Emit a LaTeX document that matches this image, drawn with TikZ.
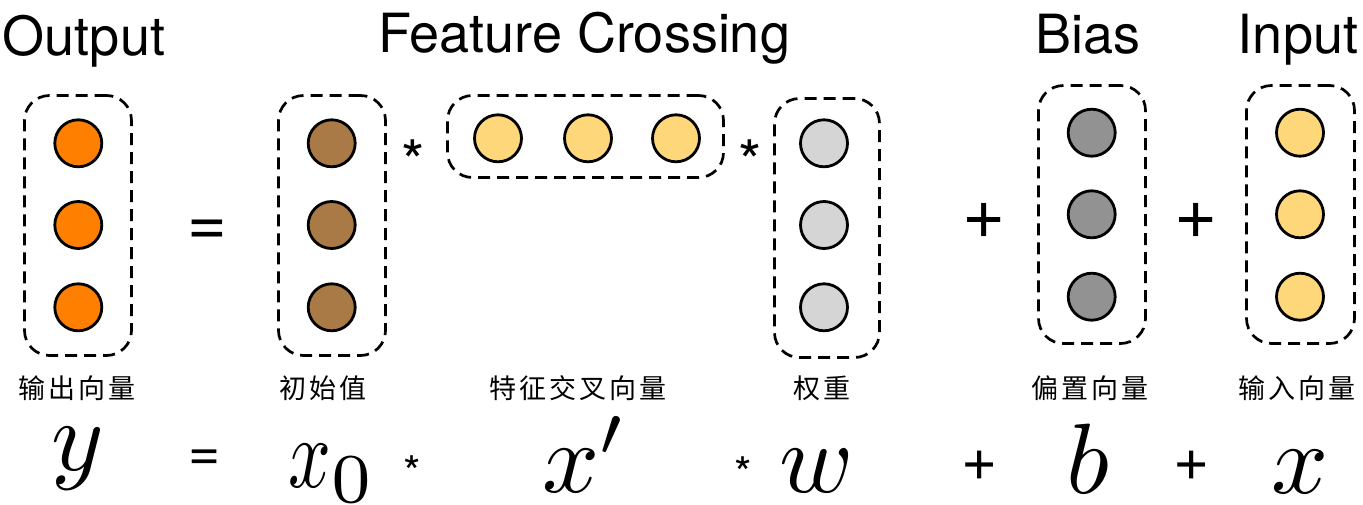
\documentclass[tikz,border=0pt]{standalone}
\usepackage{fontspec}
\usepackage{tikz}
\newfontfamily\heros{TeX Gyre Heros}
\newfontfamily\cjkfont[LetterSpace=11]{Noto Sans CJK SC}
\definecolor{cOrange}{RGB}{255,128,0}
\definecolor{cBrown}{RGB}{169,122,70}
\definecolor{cYellow}{RGB}{255,215,123}
\definecolor{cLight}{RGB}{213,213,213}
\definecolor{cDark}{RGB}{146,146,146}
\newcommand{\hugemath}[1]{\scalebox{10}{\fontsize{10}{10}\selectfont$#1$}}
\begin{document}
\begin{tikzpicture}[x=1pt,y=-1pt,
  vbox/.style={draw, line width=2.7pt, dash pattern=on 12pt off 7pt, rounded corners=25pt, inner sep=0pt},
  neuron/.style={circle, draw, line width=2.8pt, minimum size=47pt, inner sep=0pt},
  title/.style={font=\heros\fontsize{54}{54}\selectfont, anchor=base, inner sep=0pt},
  bigop/.style={font=\heros\fontsize{#1}{#1}\selectfont, anchor=base, inner sep=0pt},
  lbl/.style={font=\cjkfont\fontsize{27}{27}\selectfont, inner sep=0pt},
  msym/.style={anchor=base, inner sep=0pt}]
\useasboundingbox (0,0) rectangle (1363,504);

% titles
\node[title] (tOut) at (84,55) {Output};
\node[title] (tFC) at (584,52) {Feature Crossing};
\node[title] (tBias) at (1088,53) {Bias};
\node[title] (tIn) at (1298,53) {Input};

% boxes
\node[vbox, minimum width=107pt, minimum height=260pt] (bOut) at (78,225.5) {};
\node[vbox, minimum width=107pt, minimum height=260pt] (bInit) at (332,225.5) {};
\node[vbox, minimum width=276pt, minimum height=82pt] (bCross) at (585.5,136.5) {};
\node[vbox, minimum width=105pt, minimum height=259pt] (bW) at (827,228) {};
\node[vbox, minimum width=107pt, minimum height=258pt] (bBias) at (1092,214.5) {};
\node[vbox, minimum width=108pt, minimum height=258pt] (bIn) at (1300.5,214.5) {};

% neurons
\foreach \i/\yy in {1/143.3,2/225,3/307.3}{
  \node[neuron, fill=cOrange] (o\i) at (78.3,\yy) {};
  \node[neuron, fill=cBrown] (s\i) at (331.7,\yy) {};
  \node[neuron, fill=cLight] (w\i) at (824,\yy) {};
}
\foreach \i/\xx in {1/498,2/588,3/676}{
  \node[neuron, fill=cYellow] (c\i) at (\xx,138.3) {};
}
\foreach \i/\yy in {1/132.7,2/214.3,3/296.7}{
  \node[neuron, fill=cDark] (b\i) at (1091.7,\yy) {};
  \node[neuron, fill=cYellow] (x\i) at (1300,\yy) {};
}

% operators in the vector row
\node[bigop=68] (eq1) at (207,245.5) {=};
\node[bigop=60] (st1) at (413,183) {*};
\node[bigop=60] (st2) at (750,183) {*};
\node[bigop=74] (pl1) at (984,238.7) {+};
\node[bigop=74] (pl2) at (1196,238.7) {+};

% chinese labels
\node[lbl] (lOut) at (77,388) {输出向量};
\node[lbl] (lInit) at (323,388) {初始值};
\node[lbl] (lCross) at (578,388) {特征交叉向量};
\node[lbl] (lW) at (822,388) {权重};
\node[lbl] (lBias) at (1090,388) {偏置向量};
\node[lbl] (lIn) at (1297,388) {输入向量};

% formula row
\node[msym] (my) at (78,470) {\hugemath{y}};
\node[bigop=55] (eq2) at (205,470) {=};
\node[msym] (mx0) at (332,487) {\hugemath{\scalebox{0.75}[1]{$x$}_0}};
\node[bigop=45] (st3) at (412,488) {*};
\node[msym] (mxp) at (585,492) {\hugemath{x'}};
\node[bigop=45] (st4) at (743,489) {*};
\node[msym] (mw) at (817,492) {\hugemath{w}};
\node[bigop=62] (pl3) at (980,480.6) {+};
\node[msym] (mb) at (1088,493) {\hugemath{b}};
\node[bigop=62] (pl4) at (1192,480.6) {+};
\node[msym] (mx) at (1300,493) {\hugemath{x}};
\end{tikzpicture}
\end{document}
